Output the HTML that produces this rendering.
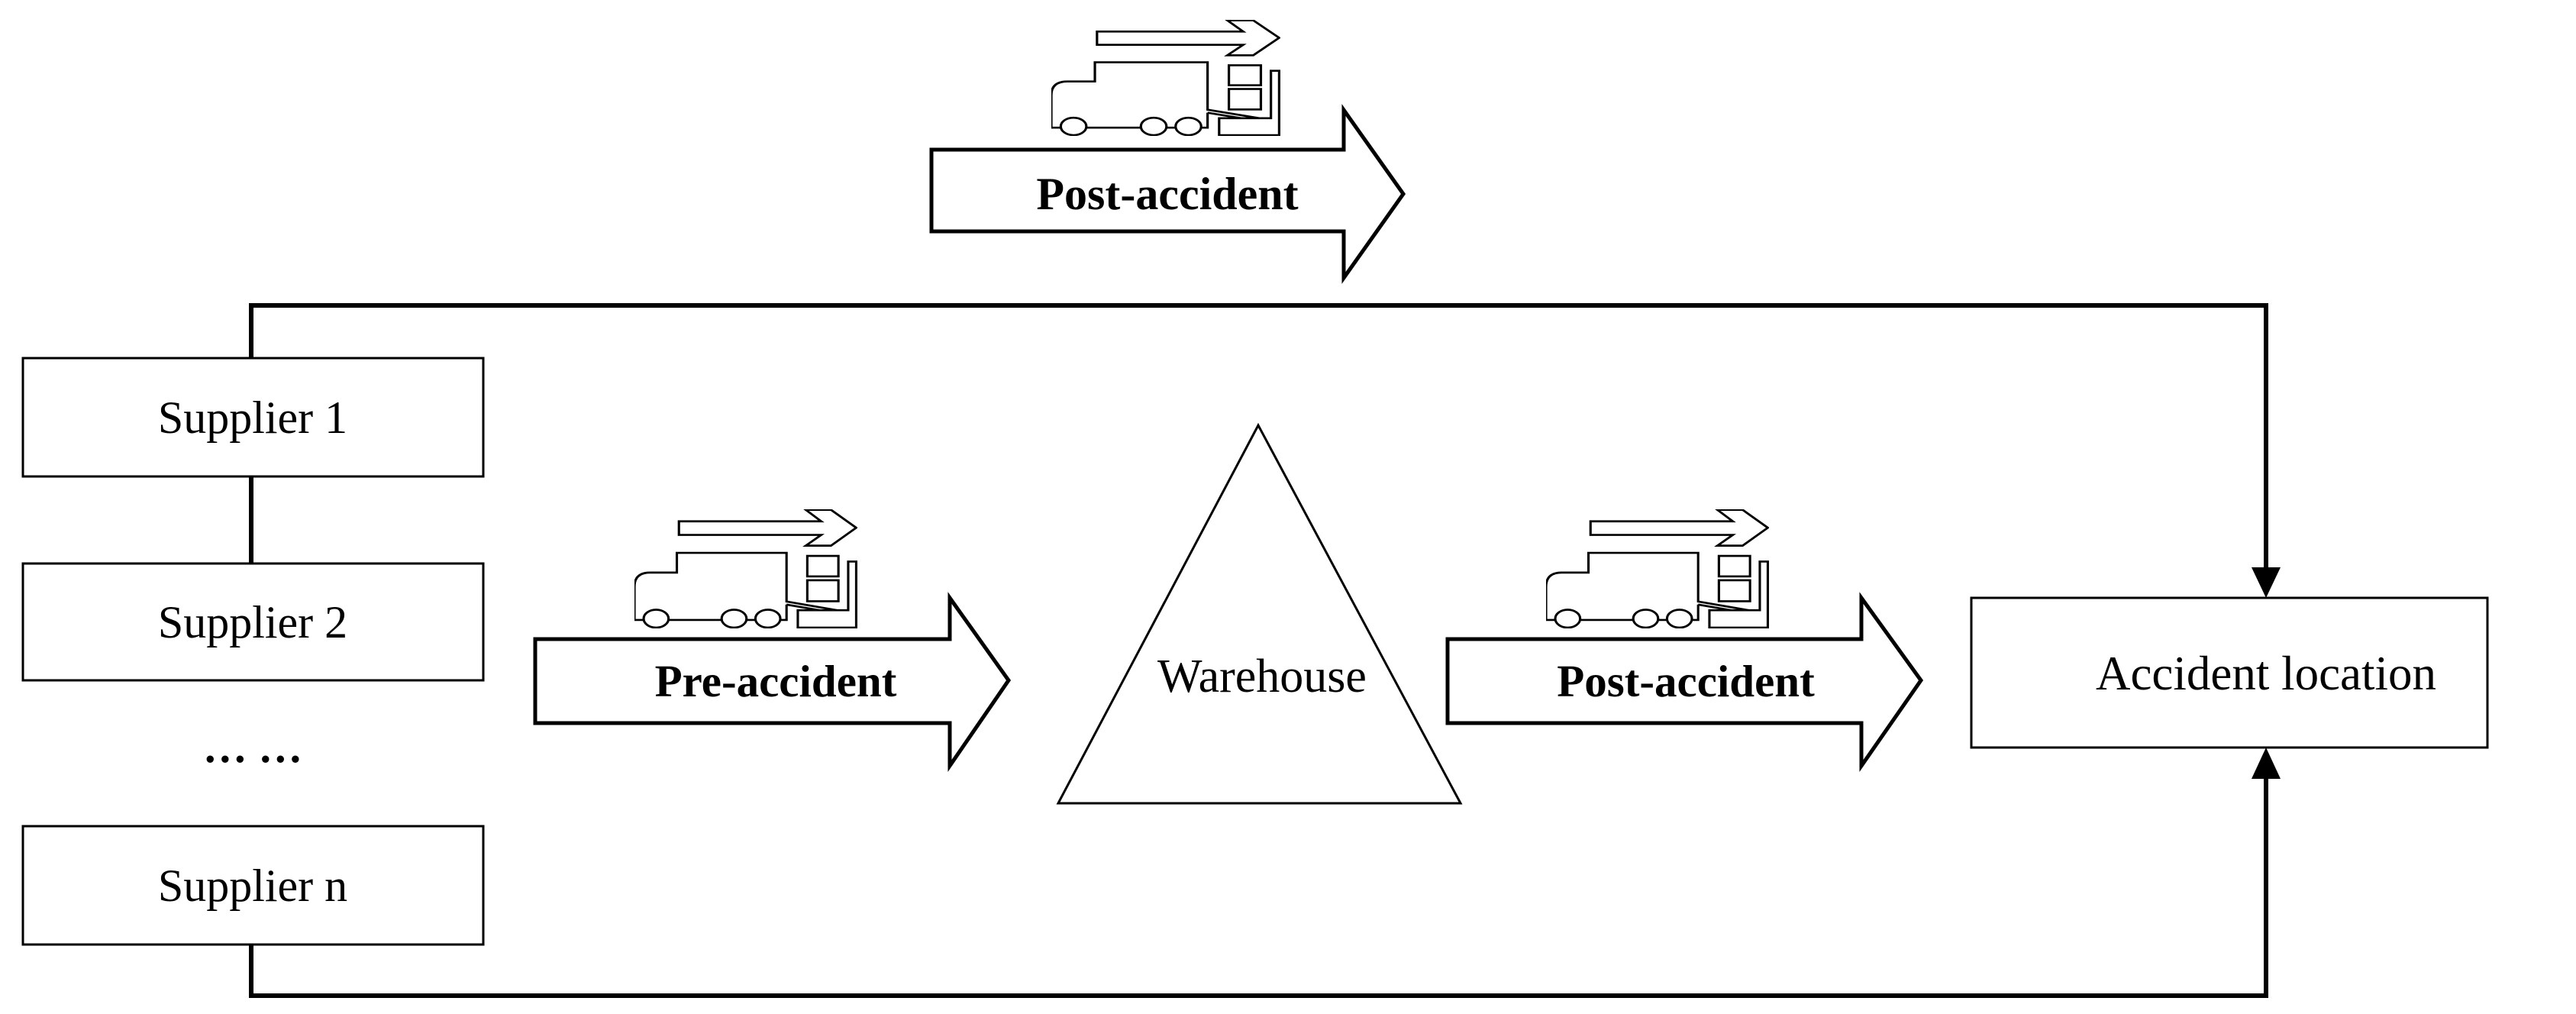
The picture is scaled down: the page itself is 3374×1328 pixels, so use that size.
<!DOCTYPE html>
<html><head><meta charset="utf-8"><style>html,body{margin:0;padding:0;background:#fff}svg{display:block}</style></head>
<body>
<svg width="3374" height="1328" viewBox="0 0 3374 1328" xmlns="http://www.w3.org/2000/svg">
<defs>
<g id="truck" fill="none" stroke="#000" stroke-width="8">
<polygon points="372,125 852,125 800,80 885,80 970,150 885,220 800,220 852,178 372,178"/>
<path d="M222,510 V380 Q222,325 275,325 H365 V248 H735 V438 L905,472 M735,450 L845,472 M735,450 V510 H222"/>
<ellipse cx="295" cy="505" rx="42" ry="35" fill="#fff"/>
<ellipse cx="558" cy="505" rx="42" ry="35" fill="#fff"/>
<ellipse cx="672" cy="505" rx="42" ry="35" fill="#fff"/>
<rect x="805" y="260" width="105" height="80"/>
<rect x="805" y="355" width="105" height="82"/>
<polygon points="943,282 970,282 970,540 773,540 773,472 943,472"/>
</g>
</defs>
<g fill="#fff" stroke="#000" stroke-width="3">
<rect x="30" y="469" width="603" height="155"/>
<rect x="30" y="738" width="603" height="153"/>
<rect x="30" y="1082" width="603" height="155"/>
<rect x="2582" y="783" width="676" height="196"/>
<polygon points="1648,557 1386,1052 1913,1052"/>
</g>
<g fill="none" stroke="#000" stroke-width="6">
<polyline points="329,469 329,400 2968,400 2968,745"/>
<line x1="329" y1="624" x2="329" y2="738"/>
<polyline points="329,1237 329,1304 2968,1304 2968,1018"/>
</g>
<polygon points="2949,743 2987,743 2968,783" fill="#000"/>
<polygon points="2949,1020 2987,1020 2968,979" fill="#000"/>
<g fill="#fff" stroke="#000" stroke-width="5">
<polygon points="1220,196 1760,196 1760,144 1838,254 1760,364 1760,303 1220,303"/>
<polygon points="701,837 1244,837 1244,783 1321,891 1244,1003 1244,947 701,947"/>
<polygon points="1896,837 2438,837 2438,783 2516,891 2438,1003 2438,947 1896,947"/>
</g>
<svg x="1377" y="26" width="300" height="152" viewBox="222 78 752 465" preserveAspectRatio="none"><use href="#truck"/></svg>
<svg x="831" y="667" width="292" height="156" viewBox="222 78 752 465" preserveAspectRatio="none"><use href="#truck"/></svg>
<svg x="2025" y="667" width="292" height="156" viewBox="222 78 752 465" preserveAspectRatio="none"><use href="#truck"/></svg>
<g font-family="'Liberation Serif', serif" fill="#000" text-anchor="middle">
<text x="1529" y="274" font-size="60" font-weight="bold">Post-accident</text>
<text x="1016" y="912" font-size="59" font-weight="bold">Pre-accident</text>
<text x="2208" y="912" font-size="59" font-weight="bold">Post-accident</text>
<text x="331" y="567" font-size="60">Supplier 1</text>
<text x="331" y="835" font-size="60">Supplier 2</text>
<text x="331" y="1180" font-size="60">Supplier n</text>
<text x="331" y="998" font-size="58" font-weight="bold">… …</text>
<text x="1653" y="906" font-size="62">Warehouse</text>
<text x="2968" y="903" font-size="63">Accident location</text>
</g>
</svg>
</body></html>
